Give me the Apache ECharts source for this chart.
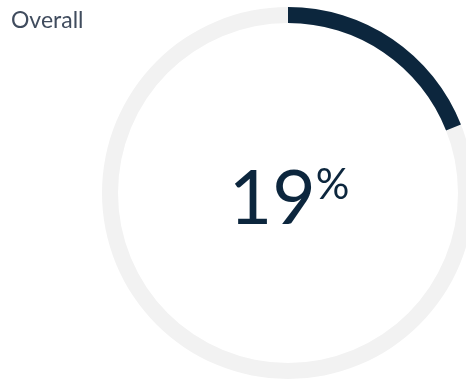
<!DOCTYPE html>
<html>
<head>
<meta charset="utf-8">
<script src="https://cdn.jsdelivr.net/npm/echarts@6/dist/echarts.min.js"></script>
<style>
  html, body { margin: 0; padding: 0; background: #ffffff; }
  #chart { width: 466px; height: 381px; }
</style>
</head>
<body>
<div id="chart"></div>
<script>
// Completion share shown as a single ring
const title = 'Overall';
const labels = ['Overall'];
const values = [19];
const scaleMin = 0;
const scaleMax = 100;

const chart = echarts.init(document.getElementById('chart'), null, { renderer: 'canvas' });

chart.setOption({
  animation: false,
  title: {
    text: title,
    left: 6,
    top: 4,
    textStyle: {
      fontFamily: 'Lato',
      fontWeight: 400,
      fontSize: 23,
      color: '#404c5e'
    }
  },
  series: [{
    type: 'gauge',
    center: [288, 193],
    radius: 186,
    startAngle: 90,
    endAngle: -270,
    min: scaleMin,
    max: scaleMax,
    pointer: { show: false },
    axisLine: {
      lineStyle: { width: 16, color: [[1, '#f2f2f2']] }
    },
    progress: {
      show: true,
      width: 16,
      roundCap: false,
      itemStyle: { color: '#0c263d' }
    },
    splitLine: { show: false },
    axisTick: { show: false },
    axisLabel: { show: false },
    title: { show: false },
    detail: {
      show: true,
      offsetCenter: [1, 4],
      formatter: function (v) { return '{num|' + v + '}{pct|%}'; },
      rich: {
        num: {
          fontFamily: 'Lato',
          fontWeight: 400,
          fontSize: 75,
          color: '#0c263d',
          lineHeight: 80,
          verticalAlign: 'bottom'
        },
        pct: {
          fontFamily: 'Lato',
          fontWeight: 400,
          fontSize: 42,
          color: '#0c263d',
          padding: [0, 0, 31, 0],
          verticalAlign: 'bottom'
        }
      }
    },
    data: labels.map((name, i) => ({ name: name, value: values[i] }))
  }]
});
</script>
</body>
</html>
